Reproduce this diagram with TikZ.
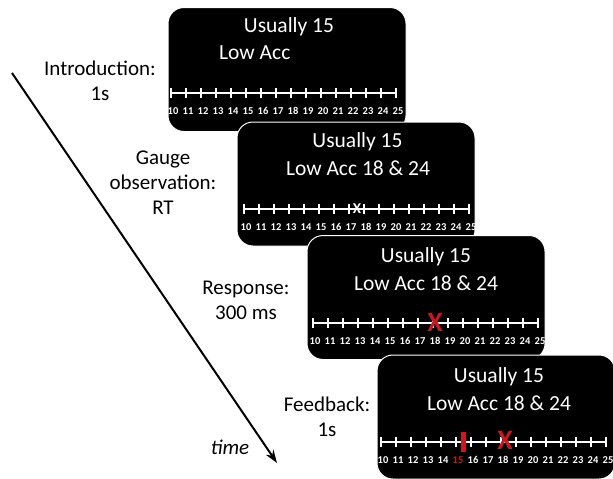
\documentclass[tikz,border=0pt]{standalone}
\usepackage{fontspec}
\setmainfont{Carlito}
\usetikzlibrary{arrows.meta}
\definecolor{markred}{RGB}{200,25,35}

\tikzset{
  screen/.style={fill=black, draw=white, line width=1pt, rounded corners=16pt,
    minimum width=238pt, minimum height=124pt, inner sep=0pt},
  cue/.style={text=white, font=\fontsize{21.5}{25}\selectfont, inner sep=0pt},
  phase/.style={align=center, font=\fontsize{21}{25}\selectfont, inner sep=0pt},
  numlabel/.style={text=white, font=\fontsize{10.5}{11}\selectfont\bfseries, inner sep=0pt},
  gauge/.style={white, line width=1.3pt},
  redx/.style={text=markred, font=\fontsize{28}{28}\selectfont\bfseries, inner sep=0pt},
}

\begin{document}
\begin{tikzpicture}[x=1pt, y=-1pt]
    \useasboundingbox (0,0) rectangle (613,479);

    % time arrow
    \coordinate (t0) at (12,73);
    \coordinate (t1) at (277,463);
    \draw[line width=2pt, -{Stealth[length=13pt,width=9pt]}] (t0) -- (t1);
    \node[phase, font=\fontsize{21}{25}\selectfont\itshape] (time) at (230,447) {time};

    % phase labels
    \node[phase] (intro) at (100,80.5) {Introduction:\\1s};
    \node[phase] (obs) at (163,182.5) {Gauge\\observation:\\RT};
    \node[phase] (resp) at (246,300) {Response:\\300 ms};
    \node[phase] (fb) at (327,416.5) {Feedback:\\1s};

    % screens
    \node[screen] (s1) at (287,69.5) {};
    \node[screen] (s2) at (356,184) {};
    \node[screen] (s3) at (426,297.5) {};
    \node[screen] (s4) at (496,417) {};

    \node[cue] (u1) at (289,27) {Usually 15};
    \node[cue, anchor=west] (a1) at (219,53) {Low Acc};
    \node[cue] (u2) at (357.5,142) {Usually 15};
    \node[cue] (a2) at (358,168) {Low Acc 18 \& 24};
    \node[cue] (u3) at (426,257) {Usually 15};
    \node[cue] (a3) at (426,283) {Low Acc 18 \& 24};
    \node[cue] (u4) at (499,377) {Usually 15};
    \node[cue] (a4) at (499,403) {Low Acc 18 \& 24};

    % gauges (the usual value is shown red on the feedback screen)
    \foreach \gx/\gy [count=\s] in {171/93, 244/209, 313/323, 381/442} {
        \draw[gauge] (\gx,\gy) -- ++(225,0);
        \foreach \v [count=\k from 0] in {10,...,25} {
            \draw[gauge] (\gx+15*\k,\gy-5) -- ++(0,10);
            \node[numlabel] (n\s-\v) at (\gx+15*\k+2,\gy+18)
                {\ifnum\s\v=415 \textcolor{markred}{\v}\else\v\fi};
        }
    }

    % observed position
    \node[cue, font=\fontsize{15}{15}\selectfont\bfseries] (obsx) at (357,209) {X};

    % responses and feedback
    \node[redx] (r3) at (435,322) {X};
    \fill[markred] (460.5,432) rectangle (465.5,452);
    \node[redx] (r4) at (505,440) {X};
\end{tikzpicture}
\end{document}
